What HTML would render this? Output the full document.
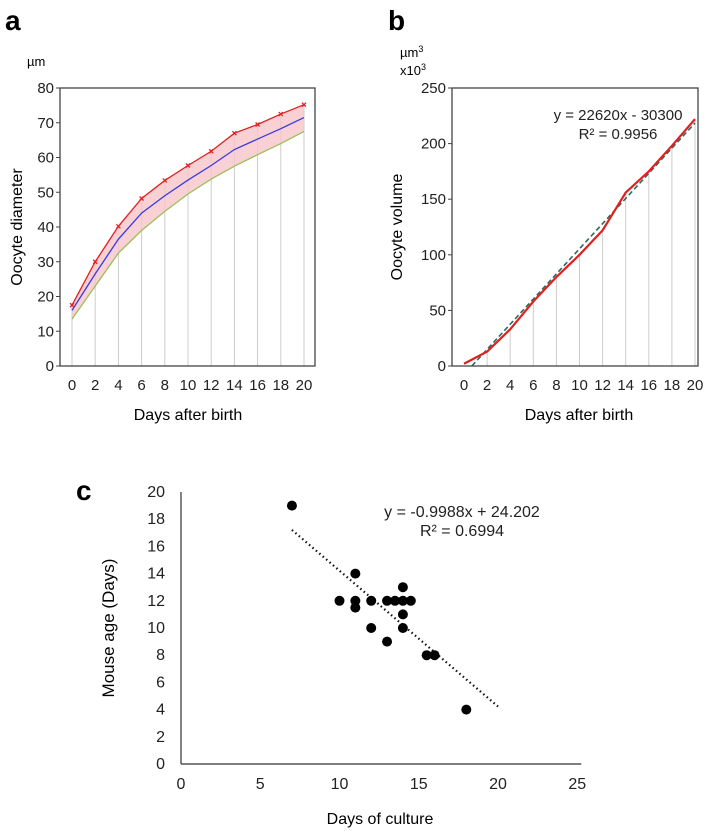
<!DOCTYPE html>
<html><head><meta charset="utf-8"><style>
body{margin:0;background:#fff;}
svg{display:block;font-family:"Liberation Sans",Arial,sans-serif;}
</style></head><body>
<svg id="s" width="709" height="834" xmlns="http://www.w3.org/2000/svg">
<text x="5" y="30" font-size="28" font-weight="bold">a</text>
<text x="388" y="30" font-size="28" font-weight="bold">b</text>
<text x="76" y="500" font-size="28" font-weight="bold">c</text>
<text x="27" y="66" font-size="13">µm</text>
<text x="400" y="57" font-size="13">µm<tspan dy="-5" font-size="9">3</tspan></text>
<text x="400" y="75" font-size="13">x10<tspan dy="-5" font-size="9">3</tspan></text>
<text transform="translate(22,227) rotate(-90)" text-anchor="middle" font-size="16">Oocyte diameter</text>
<text x="188" y="420" text-anchor="middle" font-size="16">Days after birth</text>
<text transform="translate(402,227) rotate(-90)" text-anchor="middle" font-size="16">Oocyte volume</text>
<text x="579" y="420" text-anchor="middle" font-size="16">Days after birth</text>
<text transform="translate(114,628) rotate(-90)" text-anchor="middle" font-size="17">Mouse age (Days)</text>
<text x="380" y="824" text-anchor="middle" font-size="16">Days of culture</text>
<g id="ga"></g><g id="gb"></g><g id="gc"></g>
</svg>
<script>
const daysA=[0,2,4,6,8,10,12,14,16,18,20];
const upperA=[17.5,30,40.2,48.2,53.4,57.7,61.8,67,69.5,72.5,75.2];
const meanA=[16,26.5,36.5,44,49,53.5,57.7,62.3,65.3,68.3,71.5];
const lowerA=[13.5,23,32.5,39,44.5,49.5,53.8,57.5,60.8,64,67.5];
const yTicksA=[0,10,20,30,40,50,60,70,80];
const volumeB=[2,13,33,58,80,100,122,156,175,198,222];
const yTicksB=[0,50,100,150,200,250];
const trendB=[22620,-30300];
const cultureC=[7,11,10,11,11,12,12,13,13,13.5,14,14.5,14,14,14,15.5,16,18];
const ageC=[19,14,12,12,11.5,12,10,9,12,12,12,12,13,11,10,8,8,4];
const xTicksC=[0,5,10,15,20,25];
const yTicksC=[0,2,4,6,8,10,12,14,16,18,20];
const NS="http://www.w3.org/2000/svg";
function mk(p,t,a,name){const e=document.createElementNS(NS,t);for(const k in a)e.setAttribute(k,a[k]);


p.appendChild(e);return e;}
function txt(p,x,y,s,anchor,name,fs){const e=mk(p,'text',{x:x,y:y,'text-anchor':anchor,'font-size':fs||15,fill:'#222'},name);e.textContent=s;return e;}
// Panel A
(function(){const g=document.getElementById('ga');
const X=d=>72+(d/20)*232,Y=v=>366-(v/80)*278;
daysA.forEach((d,i)=>mk(g,'line',{x1:X(d),x2:X(d),y1:Y(0),y2:Y(upperA[i]),stroke:'#ccc','stroke-width':1},'dropline'));
let pts=daysA.map((d,i)=>X(d)+','+Y(upperA[i])).join(' ')+' '+daysA.slice().reverse().map((d,j)=>X(d)+','+Y(lowerA[daysA.length-1-j])).join(' ');
mk(g,'polygon',{points:pts,fill:'#f7c6c9',opacity:0.8},'range-band');
mk(g,'polyline',{points:daysA.map((d,i)=>X(d)+','+Y(lowerA[i])).join(' '),fill:'none',stroke:'#9bbf5a','stroke-width':1.3},'lower-line');
mk(g,'polyline',{points:daysA.map((d,i)=>X(d)+','+Y(meanA[i])).join(' '),fill:'none',stroke:'#3a3ae0','stroke-width':1.3},'mean-line');
mk(g,'polyline',{points:daysA.map((d,i)=>X(d)+','+Y(upperA[i])).join(' '),fill:'none',stroke:'#e02020','stroke-width':1.3},'upper-line');
daysA.forEach((d,i)=>{const x=X(d),y=Y(upperA[i]);mk(g,'path',{d:`M${x-2},${y-2}L${x+2},${y+2}M${x-2},${y+2}L${x+2},${y-2}`,stroke:'#e02020','stroke-width':1.3},'upper-marker');});
mk(g,'rect',{x:60,y:88,width:255,height:278,fill:'none',stroke:'#444','stroke-width':1.3},'plot-frame-a');
yTicksA.forEach(v=>{mk(g,'line',{x1:56,x2:60,y1:Y(v),y2:Y(v),stroke:'#444'},'y-tick');txt(g,54,Y(v)+5,v,'end','y-tick-label');});
daysA.forEach(d=>txt(g,X(d),390,d,'middle','x-tick-label'));
})();
// Panel B
(function(){const g=document.getElementById('gb');
const X=d=>464+(d/20)*231,Y=v=>366-(v/250)*278;
daysA.forEach((d,i)=>{if(d>0)mk(g,'line',{x1:X(d),x2:X(d),y1:Y(0),y2:Y(volumeB[i]),stroke:'#ccc','stroke-width':1},'dropline');});
const tr=d=>(trendB[0]*(d/2+1)+trendB[1])/1000;
const d0=Math.max(0,(2*(-trendB[1]/trendB[0])-2));
mk(g,'line',{x1:X(d0),y1:Y(tr(d0)),x2:X(20),y2:Y(tr(20)),stroke:'#2f6a5a','stroke-width':1.6,'stroke-dasharray':'5,3'},'trendline-b');
mk(g,'polyline',{points:daysA.map((d,i)=>X(d)+','+Y(volumeB[i])).join(' '),fill:'none',stroke:'#e02020','stroke-width':2.2},'volume-line');
mk(g,'rect',{x:452,y:88,width:246,height:278,fill:'none',stroke:'#444','stroke-width':1.3},'plot-frame-b');
yTicksB.forEach(v=>{mk(g,'line',{x1:448,x2:452,y1:Y(v),y2:Y(v),stroke:'#444'},'y-tick');txt(g,446,Y(v)+5,v,'end','y-tick-label');});
daysA.forEach(d=>txt(g,X(d),390,d,'middle','x-tick-label'));
txt(g,618,120,'y = 22620x - 30300','middle','equation-b');
txt(g,618,139,'R² = 0.9956','middle','r2-b');
})();
// Panel C
(function(){const g=document.getElementById('gc');
const X=v=>181+(v/20)*317,Y=v=>764-(v/20)*272;
mk(g,'line',{x1:181,y1:Y(20),x2:181,y2:Y(0),stroke:'#333','stroke-width':1.2},'y-axis-c');
mk(g,'line',{x1:181,y1:Y(0),x2:X(25)+4,y2:Y(0),stroke:'#333','stroke-width':1.2},'x-axis-c');
yTicksC.forEach(v=>txt(g,165,Y(v)+5,v,'end','y-tick-label',16));
xTicksC.forEach(v=>txt(g,X(v),789,v,'middle','x-tick-label',16));
const f=x=>-0.9988*x+24.202;
mk(g,'line',{x1:X(7),y1:Y(f(7)),x2:X(20),y2:Y(f(20)),stroke:'#111','stroke-width':2.2,'stroke-dasharray':'1.5,3'},'trendline-c');
cultureC.forEach((c,i)=>mk(g,'circle',{cx:X(c),cy:Y(ageC[i]),r:5,fill:'#000'},'data-point'));
txt(g,462,517,'y = -0.9988x + 24.202','middle','equation-c',16);
txt(g,462,536,'R² = 0.6994','middle','r2-c',16);
})();
</script>
</body></html>
